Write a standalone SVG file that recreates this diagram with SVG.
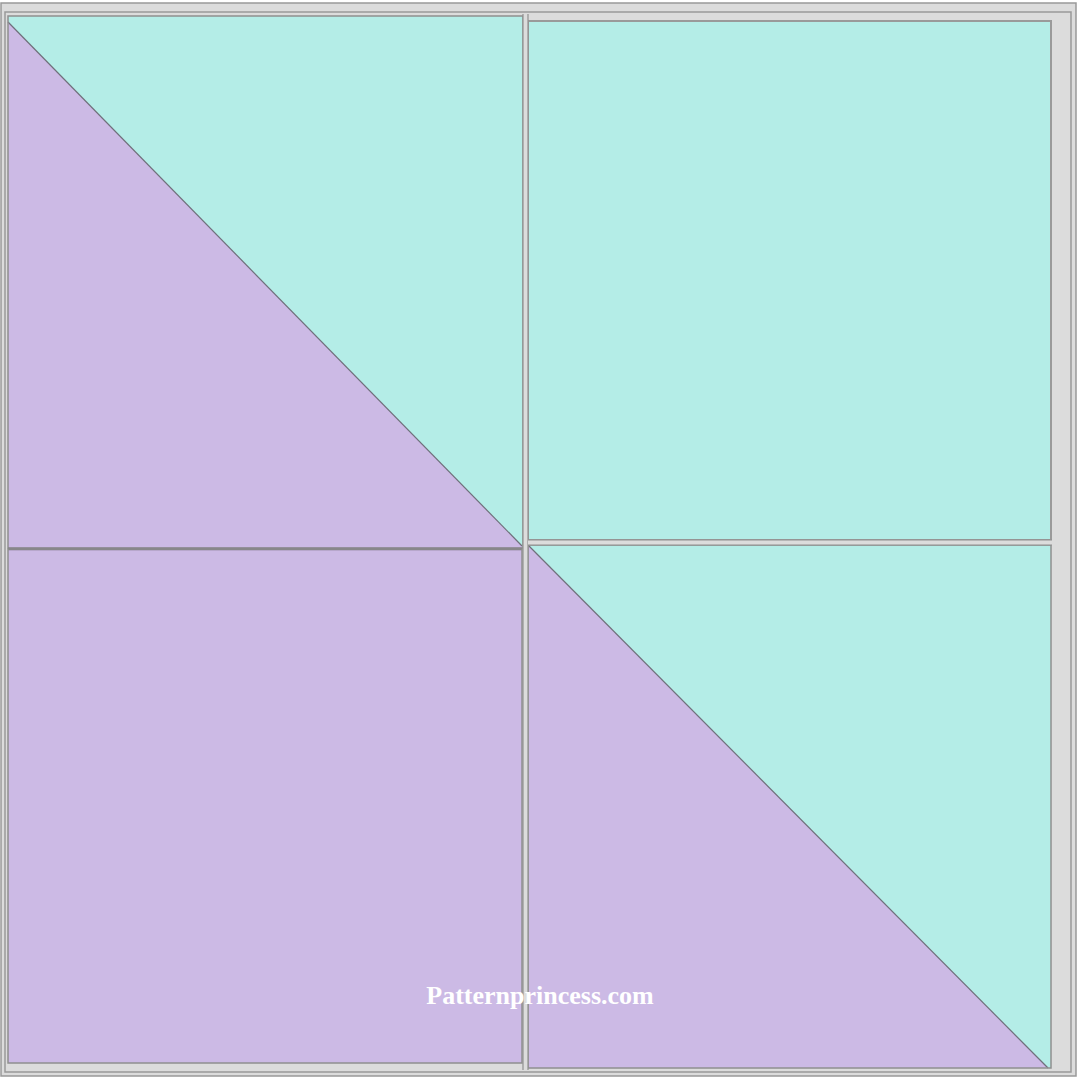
<svg xmlns="http://www.w3.org/2000/svg" width="1080" height="1080" viewBox="0 0 1080 1080">
<defs>
<style>
.teal{fill:#b4ede7}
.purple{fill:#ccbae5}
.seam{fill:none;stroke:#8f8f8f;stroke-width:1.5}
.band{fill:#dcdcdc;stroke:#999;stroke-width:1.5}
.diag{stroke:#6f6f7a;stroke-width:1.2;fill:none}
.label{font-family:"Liberation Serif","DejaVu Serif",serif;font-weight:bold;font-size:26px;fill:#ffffff}
</style>
</defs>
<rect width="1080" height="1080" fill="#ffffff"/>
<g id="frame">
<rect class="band" x="1" y="3" width="1075" height="1073"/>
<rect class="band" x="5" y="12" width="1066" height="1060"/>
</g>
<g id="block-upper-left">
<rect class="teal" x="8" y="16" width="515" height="532"/>
<polygon class="purple" points="8,22 522,546 522,548 8,548"/>
<line class="diag" x1="8" y1="22" x2="522" y2="546"/>
<rect class="seam" x="8" y="16" width="515" height="532"/>
</g>
<g id="block-upper-right">
<rect class="teal" x="528" y="21" width="523" height="519" stroke="#9a9a9a" stroke-width="2"/>
</g>
<g id="block-lower-right">
<rect class="teal" x="528" y="545" width="523" height="523"/>
<polygon class="purple" points="528,545 1048,1068 528,1068"/>
<line class="diag" x1="528" y1="545" x2="1048" y2="1068"/>
<rect class="seam" x="528" y="545" width="523" height="523"/>
</g>
<g id="block-lower-left">
<rect class="purple" x="8" y="549" width="514" height="514"/>
<line x1="8" y1="549" x2="522" y2="549" stroke="#77727f" stroke-width="2.5"/>
<rect class="seam" x="8" y="549" width="514" height="514"/>
</g>
<g id="seams">
<line x1="525.5" y1="14" x2="525.5" y2="1070" stroke="#dcdcdc" stroke-width="5"/>
<line x1="523" y1="14" x2="523" y2="1070" stroke="#909090" stroke-width="1.2"/>
<line x1="528" y1="14" x2="528" y2="1070" stroke="#909090" stroke-width="1.2"/>
<line x1="528" y1="542.5" x2="1052" y2="542.5" stroke="#dcdcdc" stroke-width="5"/>
<line x1="528" y1="540" x2="1052" y2="540" stroke="#909090" stroke-width="1.2"/>
<line x1="528" y1="545" x2="1052" y2="545" stroke="#909090" stroke-width="1.2"/>
</g>
<text class="label" x="540" y="1004" text-anchor="middle">Patternprincess.com</text>
</svg>
